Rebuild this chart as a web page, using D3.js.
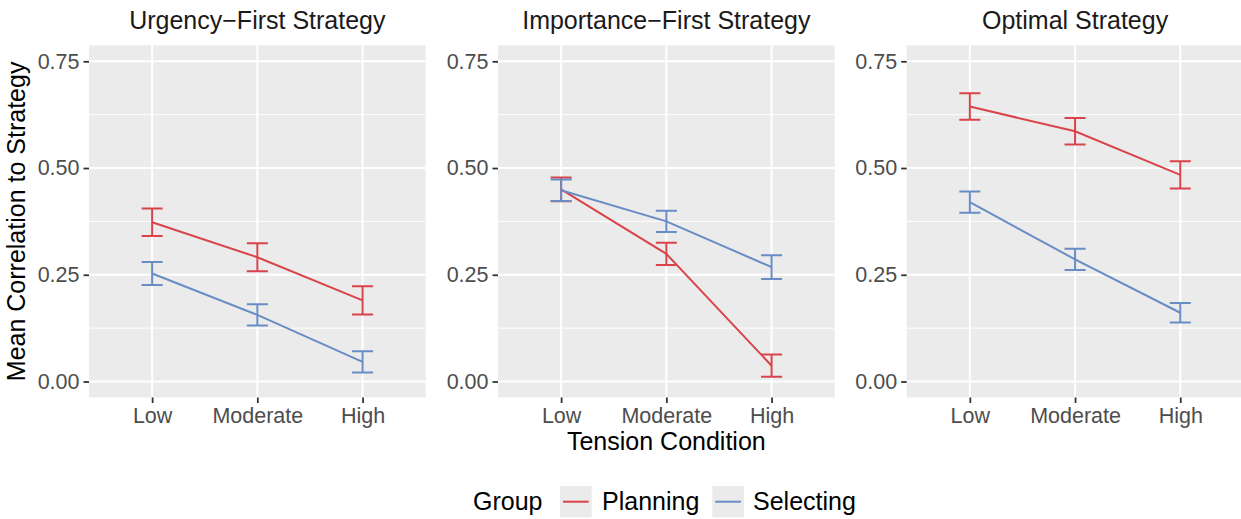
<!DOCTYPE html>
<html>
<head>
<meta charset="utf-8">
<script src="https://cdn.jsdelivr.net/npm/d3@7"></script>
<style>
  html, body { margin: 0; padding: 0; background: #ffffff; }
  svg { display: block; font-family: "Liberation Sans", Arial, Helvetica, sans-serif; }
</style>
</head>
<body>
<svg id="chart" width="1241" height="519"></svg>
<script>
// Tension conditions on the x axis and one facet per strategy
const conditions = ["Low", "Moderate", "High"];
const strategies = ["Urgency\u2212First Strategy", "Importance\u2212First Strategy", "Optimal Strategy"];
const groups = ["Planning", "Selecting"];
const yTicks = [0, 0.25, 0.5, 0.75];
const yMinor = [0.125, 0.375, 0.625];

// Mean correlation to strategy, per strategy (rows) and condition (columns)
const planningMean = [
  [0.373, 0.291, 0.190],
  [0.450, 0.299, 0.037],
  [0.644, 0.586, 0.484]
];
const planningErr = [
  [0.032, 0.033, 0.033],
  [0.028, 0.026, 0.026],
  [0.031, 0.031, 0.032]
];
const selectingMean = [
  [0.253, 0.156, 0.046],
  [0.448, 0.375, 0.268],
  [0.420, 0.286, 0.161]
];
const selectingErr = [
  [0.027, 0.025, 0.025],
  [0.025, 0.025, 0.028],
  [0.025, 0.025, 0.023]
];

const colors = { Planning: "#d9444a", Selecting: "#688dc5" };
const meansByGroup = { Planning: planningMean, Selecting: selectingMean };
const errsByGroup = { Planning: planningErr, Selecting: selectingErr };

const svg = d3.select("#chart");

// Panel geometry
const panelLeft = [89, 498, 906.7];
const panelW = 336.7;
const panelTop = 45.3;
const panelBottom = 397.5;

const y = d3.scaleLinear()
  .domain([-0.0375, 0.7875])
  .range([panelBottom, panelTop]);

const tickFont = "21.5px";
const titleFont = "25px";

strategies.forEach((strategy, si) => {
  const x0 = panelLeft[si];
  const x = d3.scalePoint()
    .domain(conditions)
    .range([x0, x0 + panelW])
    .padding(0.6);
  const step = x.step();

  const panel = svg.append("g");

  // Background
  panel.append("rect")
    .attr("x", x0).attr("y", panelTop)
    .attr("width", panelW).attr("height", panelBottom - panelTop)
    .attr("fill", "#ebebeb");

  // Minor grid
  panel.selectAll("line.minor").data(yMinor).join("line")
    .attr("x1", x0).attr("x2", x0 + panelW)
    .attr("y1", d => y(d)).attr("y2", d => y(d))
    .attr("stroke", "#ffffff").attr("stroke-width", 1);

  // Major grid
  panel.selectAll("line.majorY").data(yTicks).join("line")
    .attr("x1", x0).attr("x2", x0 + panelW)
    .attr("y1", d => y(d)).attr("y2", d => y(d))
    .attr("stroke", "#ffffff").attr("stroke-width", 2);
  panel.selectAll("line.majorX").data(conditions).join("line")
    .attr("x1", d => x(d)).attr("x2", d => x(d))
    .attr("y1", panelTop).attr("y2", panelBottom)
    .attr("stroke", "#ffffff").attr("stroke-width", 2);

  // Y axis
  const yAxis = d3.axisLeft(y).tickValues(yTicks).tickFormat(d3.format(".2f"))
    .tickSize(5.5).tickPadding(4);
  const ya = svg.append("g").attr("transform", `translate(${x0},0)`).call(yAxis);
  ya.select(".domain").remove();
  ya.selectAll(".tick line").attr("stroke", "#333333").attr("stroke-width", 1.8);
  ya.selectAll(".tick text")
    .attr("fill", "#4d4d4d").style("font-size", tickFont)
    .style("font-family", "'Liberation Sans', Arial, sans-serif");

  // X axis
  const xAxis = d3.axisBottom(x).tickSize(5.5).tickPadding(4.5);
  const xa = svg.append("g").attr("transform", `translate(0,${panelBottom})`).call(xAxis);
  xa.select(".domain").remove();
  xa.selectAll(".tick line").attr("stroke", "#333333").attr("stroke-width", 1.8);
  xa.selectAll(".tick text")
    .attr("fill", "#4d4d4d").style("font-size", tickFont)
    .style("font-family", "'Liberation Sans', Arial, sans-serif");

  // Facet title
  svg.append("text")
    .attr("x", x0 + panelW / 2).attr("y", 28.5)
    .attr("text-anchor", "middle")
    .style("font-size", titleFont)
    .attr("fill", "#1a1a1a")
    .text(strategy);

  // Clip marks to the panel
  const clipId = "clip" + si;
  svg.append("clipPath").attr("id", clipId)
    .append("rect").attr("x", x0).attr("y", panelTop)
    .attr("width", panelW).attr("height", panelBottom - panelTop);
  const marks = svg.append("g").attr("clip-path", `url(#${clipId})`);

  const line = d3.line().x(d => x(d.c)).y(d => y(d.v));

  // Lines
  groups.forEach(g => {
    const pts = conditions.map((c, ci) => ({ c, v: meansByGroup[g][si][ci] }));
    marks.append("path")
      .datum(pts)
      .attr("d", line)
      .attr("fill", "none")
      .attr("stroke", colors[g])
      .attr("stroke-width", 2);
  });

  // Error bars
  const capHalf = step * 0.1;
  groups.forEach(g => {
    const pts = conditions.map((c, ci) => ({
      c,
      lo: meansByGroup[g][si][ci] - errsByGroup[g][si][ci],
      hi: meansByGroup[g][si][ci] + errsByGroup[g][si][ci]
    }));
    const eb = marks.append("g").attr("stroke", colors[g]).attr("stroke-width", 2).attr("fill", "none");
    eb.selectAll("path").data(pts).join("path")
      .attr("d", d => {
        const cx = x(d.c), yl = y(d.lo), yh = y(d.hi);
        return `M${cx - capHalf},${yh}H${cx + capHalf}M${cx},${yh}V${yl}M${cx - capHalf},${yl}H${cx + capHalf}`;
      });
  });
});

// Axis titles
svg.append("text")
  .attr("x", panelLeft[1] + panelW / 2).attr("y", 450)
  .attr("text-anchor", "middle")
  .style("font-size", titleFont)
  .attr("fill", "#000000")
  .text("Tension Condition");

svg.append("text")
  .attr("transform", `translate(25,${(panelTop + panelBottom) / 2}) rotate(-90)`)
  .attr("text-anchor", "middle")
  .style("font-size", titleFont)
  .attr("fill", "#000000")
  .text("Mean Correlation to Strategy");

// Legend
const legend = svg.append("g");
legend.append("text")
  .attr("x", 473).attr("y", 510)
  .style("font-size", titleFont)
  .attr("fill", "#000000")
  .text("Group");

const keyX = [560, 712.3];
const labelX = [602, 753];
groups.forEach((g, i) => {
  legend.append("rect")
    .attr("x", keyX[i]).attr("y", 486)
    .attr("width", 31.7).attr("height", 31.3)
    .attr("fill", "#ebebeb");
  legend.append("line")
    .attr("x1", keyX[i] + 3).attr("x2", keyX[i] + 28.7)
    .attr("y1", 501.7).attr("y2", 501.7)
    .attr("stroke", colors[g]).attr("stroke-width", 2);
  legend.append("text")
    .attr("x", labelX[i]).attr("y", 510)
    .style("font-size", titleFont)
    .attr("fill", "#000000")
    .text(g);
});
</script>
</body>
</html>
